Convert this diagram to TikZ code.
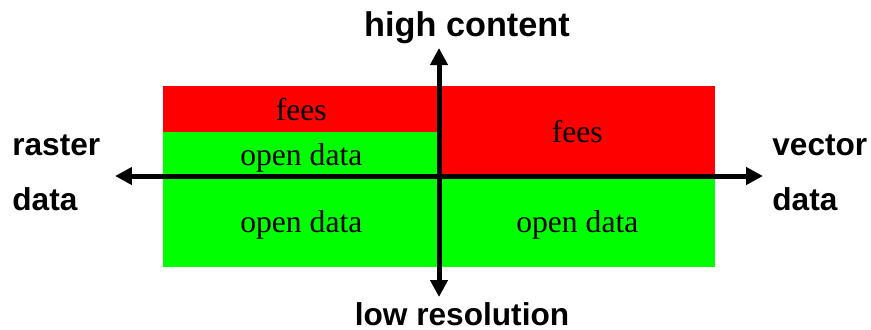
\documentclass[tikz,border=0pt]{standalone}
\usepackage{fontspec}
\setmainfont{Liberation Serif}
\setsansfont{Liberation Sans}
\usetikzlibrary{arrows.meta}
\definecolor{feered}{RGB}{255,0,0}
\definecolor{opengreen}{RGB}{0,255,0}

\begin{document}
\begin{tikzpicture}[x=0.02cm, y=-0.02cm,
  box/.style={anchor=north west, inner sep=0pt, minimum width=5.52cm,
    text height=12.5pt, text depth=0pt, font=\fontsize{18}{22}\selectfont},
  fees/.style={box, fill=feered},
  open/.style={box, fill=opengreen},
  axisarrow/.style={line width=0.1cm,
    {Triangle[length=0.34cm, width=0.34cm]}-{Triangle[length=0.34cm, width=0.34cm]}},
  axislabel/.style={font=\sffamily\bfseries\fontsize{18}{22}\selectfont, inner sep=0pt}]
  \useasboundingbox (0,0) rectangle (871,329);

  % Boxes
  \node[fees, minimum height=0.91cm] (feesL) at (163,86) {fees};
  \node[open, minimum height=0.89cm] (openL) at (163,131.5) {open data};
  \node[open, minimum height=1.82cm] (openLL) at (163,176) {open data};
  \node[fees, minimum height=1.8cm] (feesR) at (439,86) {fees};
  \node[open, minimum height=1.82cm] (openR) at (439,176) {open data};

  % Axes
  \coordinate (W) at (115,176);
  \coordinate (E) at (763,176);
  \coordinate (N) at (439,48);
  \coordinate (S) at (439,297);
  \draw[axisarrow] (W) -- (E);
  \draw[axisarrow] (N) -- (S);

  % Labels
  \node[axislabel, anchor=base, font=\sffamily\bfseries\fontsize{19.5}{22}\selectfont]
    (high) at (467,36) {high content};
  \node[axislabel, anchor=base] (low) at (462,325) {low resolution};
  \node[axislabel, anchor=base west] (raster) at (12,155) {raster};
  \node[axislabel, anchor=base west] (rasterdata) at (12,210) {data};
  \node[axislabel, anchor=base west] (vector) at (772,155) {vector};
  \node[axislabel, anchor=base west] (vectordata) at (772,210) {data};
\end{tikzpicture}
\end{document}
